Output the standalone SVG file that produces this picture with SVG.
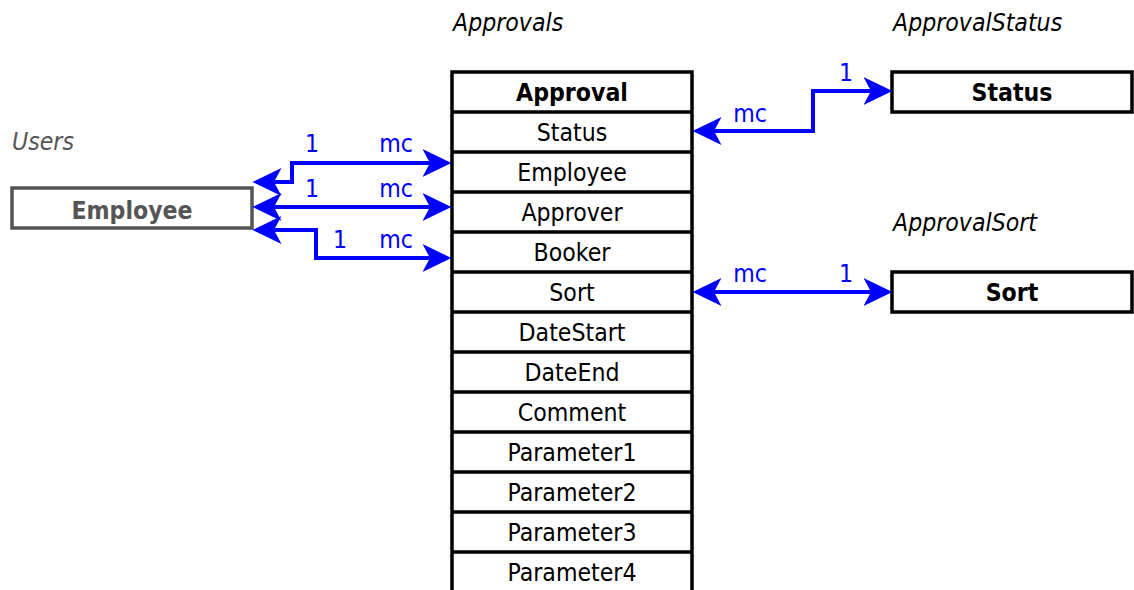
<svg xmlns="http://www.w3.org/2000/svg" width="1134" height="590" viewBox="0 0 1134 590">
  <style>
    text { font-family: "DejaVu Sans Condensed", "DejaVu Sans", sans-serif; font-stretch: condensed; font-size: 24.6px; }
    .schema { font-style: italic; fill: #000; }
    .schema.ext { fill: #555; }
    .box { fill: #fff; stroke: #000; stroke-width: 3.5; }
    .box.ext { stroke: #555; }
    .row { stroke: #000; stroke-width: 3.5; }
    .title { font-weight: bold; text-anchor: middle; fill: #000; }
    .title.ext { fill: #555; }
    .field { text-anchor: middle; fill: #000; }
    .link { fill: none; stroke: #0000ff; stroke-width: 4; marker-start: url(#arrow); marker-end: url(#arrow); }
    .card { fill: #0000ff; text-anchor: middle; }
  </style>
  <defs>
    <marker id="arrow" markerUnits="userSpaceOnUse" markerWidth="30" markerHeight="30" viewBox="0 -14 28 28" refX="7" refY="0" orient="auto-start-reverse">
      <path d="M0,-13 L27,0 L0,13 L7,0 Z" fill="#0000ff"/>
    </marker>
  </defs>

  <!-- schema captions -->
  <text class="schema" x="453" y="31">Approvals</text>
  <text class="schema" x="893" y="31">ApprovalStatus</text>
  <text class="schema" x="893" y="231">ApprovalSort</text>
  <text class="schema ext" x="12" y="150">Users</text>

  <!-- Approval table -->
  <g id="approval">
    <rect class="box" x="452" y="72" width="240" height="520"/>
    <path class="row" d="M452,112 H692 M452,152 H692 M452,192 H692 M452,232 H692 M452,272 H692 M452,312 H692 M452,352 H692 M452,392 H692 M452,432 H692 M452,472 H692 M452,512 H692 M452,552 H692"/>
    <text class="title" x="572" y="101">Approval</text>
    <text class="field" x="572" y="141">Status</text>
    <text class="field" x="572" y="181">Employee</text>
    <text class="field" x="572" y="221">Approver</text>
    <text class="field" x="572" y="261">Booker</text>
    <text class="field" x="572" y="301">Sort</text>
    <text class="field" x="572" y="341">DateStart</text>
    <text class="field" x="572" y="381">DateEnd</text>
    <text class="field" x="572" y="421">Comment</text>
    <text class="field" x="572" y="461">Parameter1</text>
    <text class="field" x="572" y="501">Parameter2</text>
    <text class="field" x="572" y="541">Parameter3</text>
    <text class="field" x="572" y="581">Parameter4</text>
  </g>

  <!-- Status table -->
  <g id="status">
    <rect class="box" x="892" y="72" width="240" height="40"/>
    <text class="title" x="1012" y="101">Status</text>
  </g>

  <!-- Sort table -->
  <g id="sort">
    <rect class="box" x="892" y="272" width="240" height="40"/>
    <text class="title" x="1012" y="301">Sort</text>
  </g>

  <!-- Employee table (external schema) -->
  <g id="employee">
    <rect class="box ext" x="12" y="188" width="240" height="40"/>
    <text class="title ext" x="132" y="219">Employee</text>
  </g>

  <!-- relations -->
  <g id="connectors">
    <path class="link" d="M714,131 H813 V91 H871"/>
    <path class="link" d="M714,292 H871"/>
    <path class="link" d="M274,182 H292 V163 H430"/>
    <path class="link" d="M274,207 H430"/>
    <path class="link" d="M274,230 H316 V258 H430"/>
  </g>

  <!-- cardinalities -->
  <g id="labels">
    <text class="card" x="846" y="81">1</text>
    <text class="card" x="750" y="122">mc</text>
    <text class="card" x="750" y="282">mc</text>
    <text class="card" x="846" y="282">1</text>
    <text class="card" x="312" y="152">1</text>
    <text class="card" x="396" y="152">mc</text>
    <text class="card" x="312" y="197">1</text>
    <text class="card" x="396" y="197">mc</text>
    <text class="card" x="340" y="248">1</text>
    <text class="card" x="396" y="248">mc</text>
  </g>
</svg>
